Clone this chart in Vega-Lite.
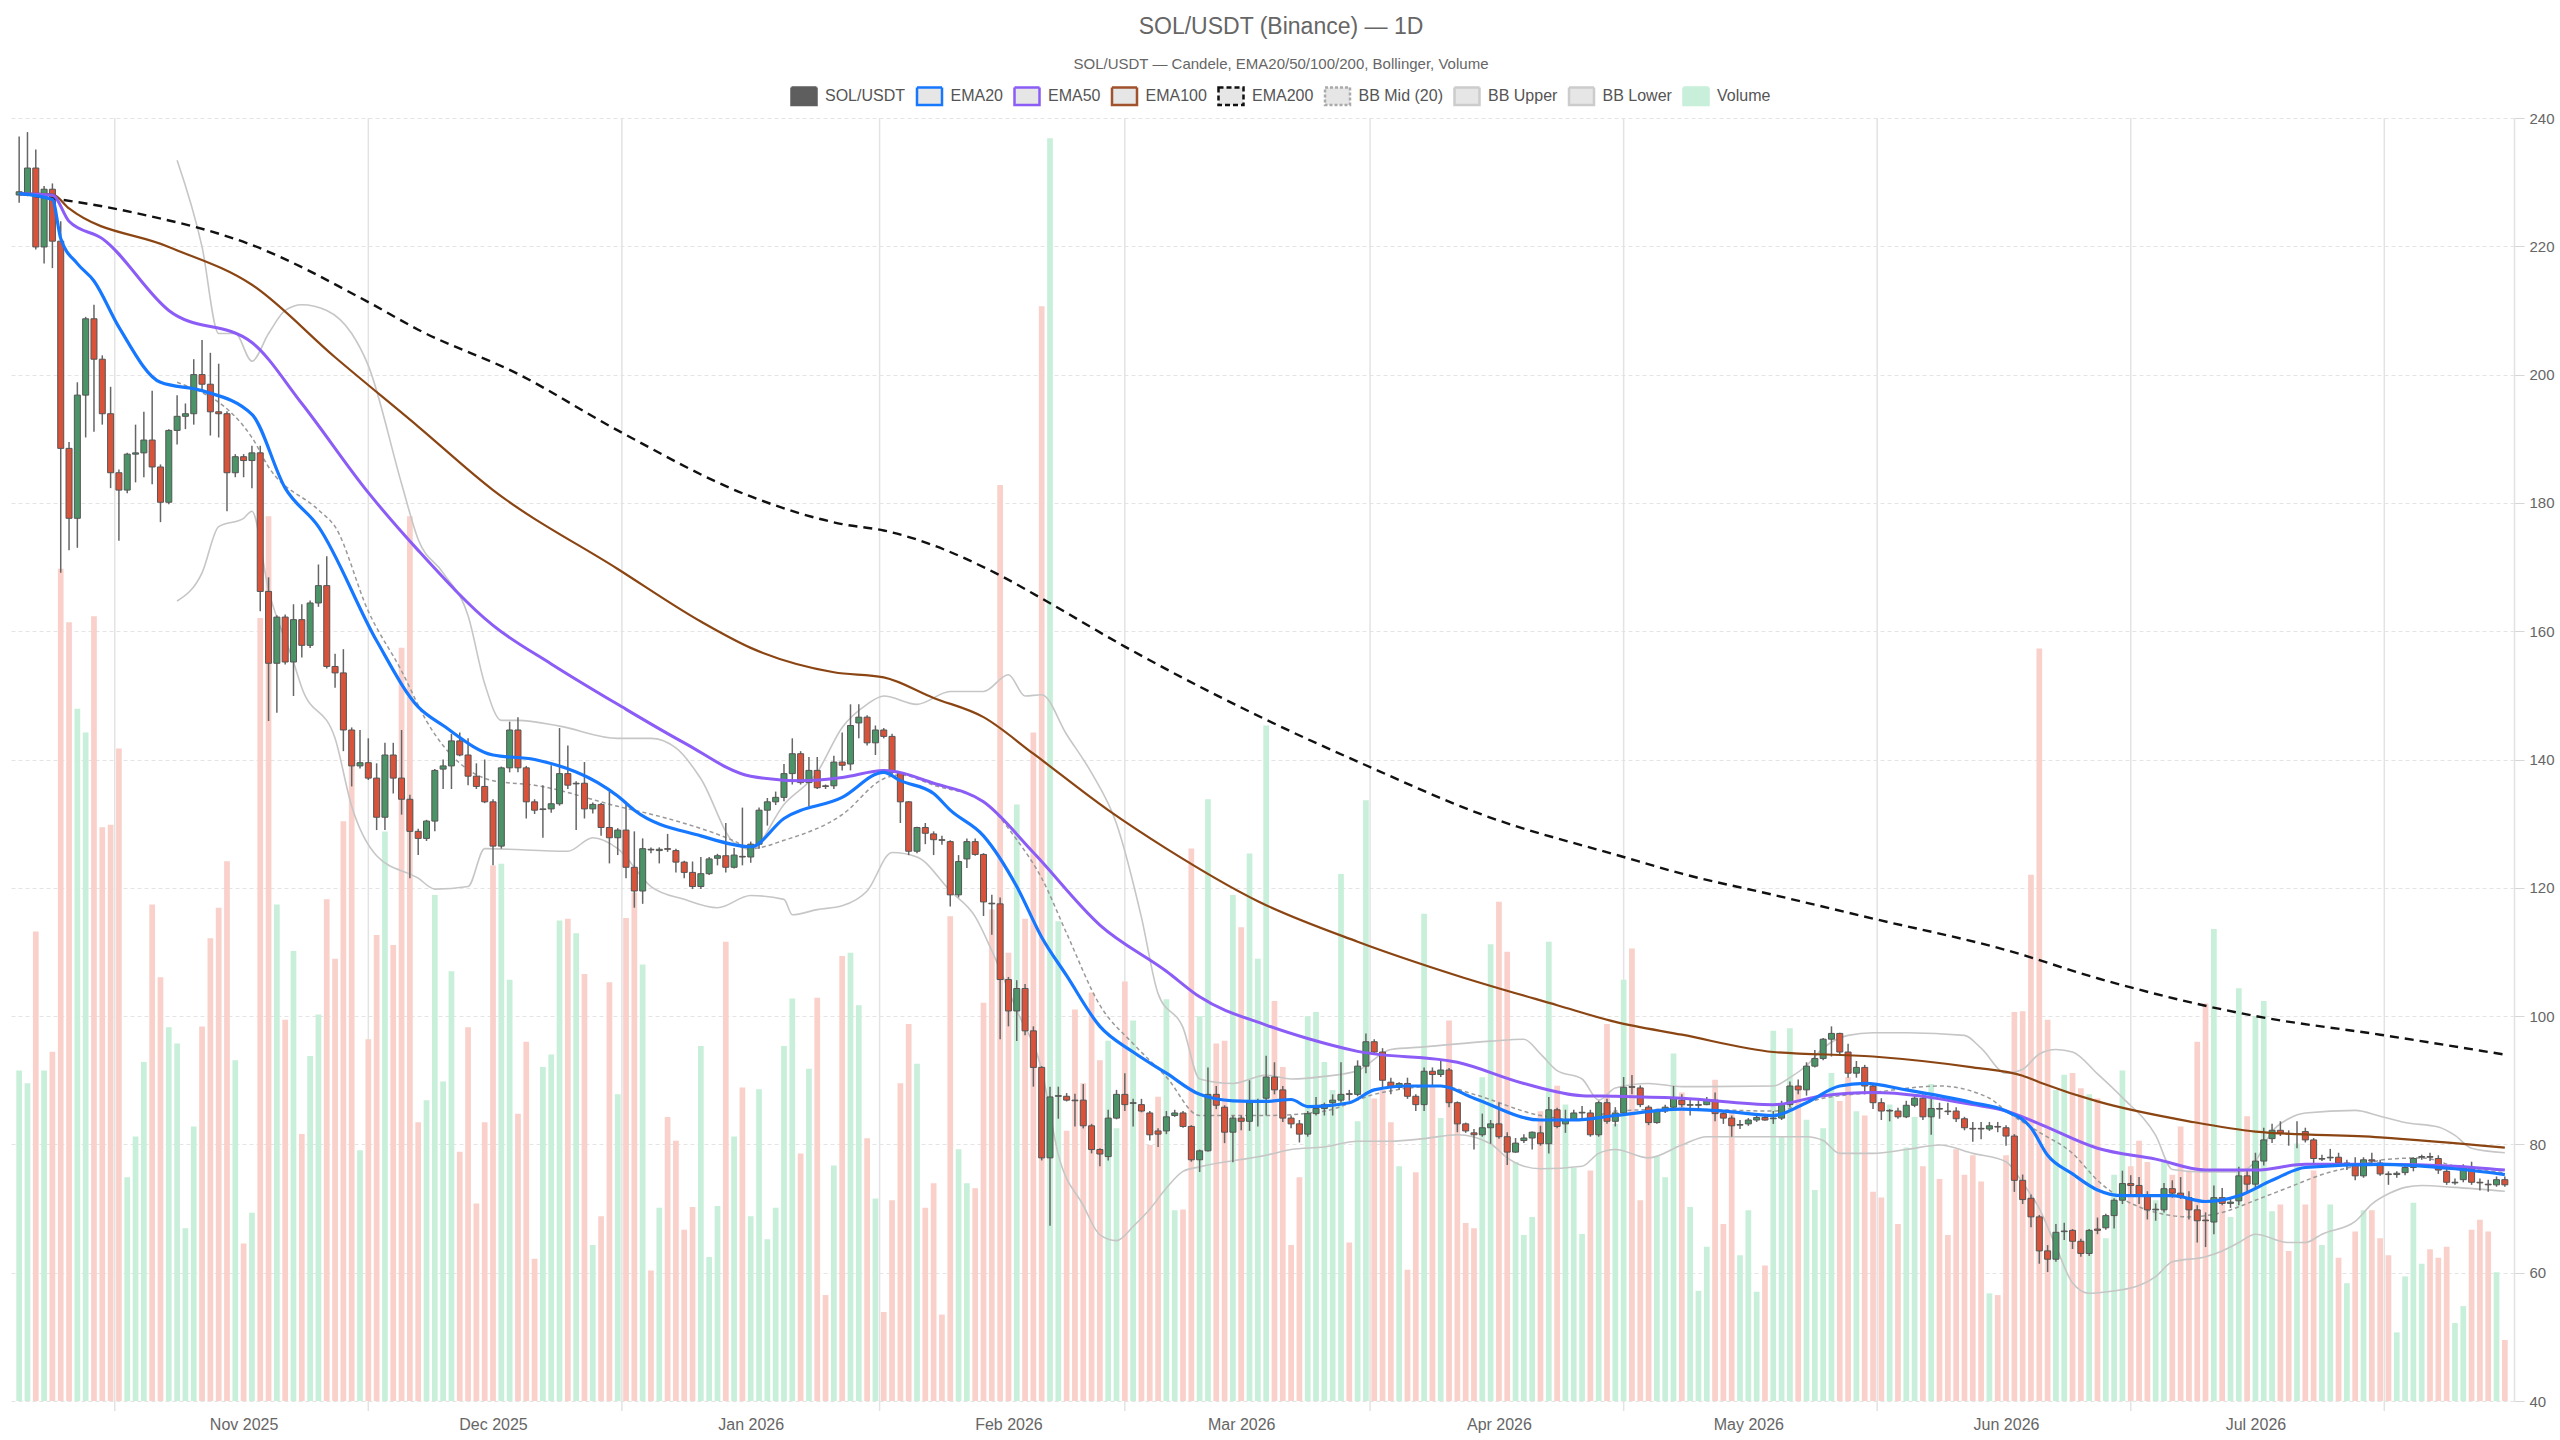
{
"$schema":"https://vega.github.io/schema/vega-lite/v6.json",
"width":2504,"height":1283,
"autosize":{"type":"none"},
"padding":{"left":10,"top":118,"right":46,"bottom":39},
"background":"#ffffff",
"title":{"text":"SOL/USDT (Binance) — 1D","subtitle":"SOL/USDT — Candele, EMA20/50/100/200, Bollinger, Volume","anchor":"middle","dx":19,"offset":10,"font":"Liberation Sans","fontSize":23,"fontWeight":"normal","color":"#666666","subtitleFont":"Liberation Sans","subtitleFontSize":15,"subtitleColor":"#666666","subtitlePadding":18},
"config":{"view":{"stroke":null},"font":"Liberation Sans"},
"datasets":{
"vgrid":[{"t":"2025-10-16T12:00:00Z"},{"t":"2025-11-16T00:00:00Z"},{"t":"2025-12-16T12:00:00Z"},{"t":"2026-01-16T12:00:00Z"},{"t":"2026-02-15T00:00:00Z"},{"t":"2026-03-16T12:00:00Z"},{"t":"2026-04-16T00:00:00Z"},{"t":"2026-05-16T12:00:00Z"},{"t":"2026-06-16T00:00:00Z"},{"t":"2026-07-16T12:00:00Z"}],
"candles":[
{"t":"2025-10-05","o":228.0,"h":237.1,"l":226.8,"c":228.5,"v":39.0},
{"t":"2025-10-06","o":228.2,"h":237.8,"l":227.8,"c":232.2,"v":37.5},
{"t":"2025-10-07","o":232.2,"h":235.1,"l":219.5,"c":219.9,"v":55.4},
{"t":"2025-10-08","o":219.9,"h":229.4,"l":217.3,"c":228.9,"v":39.0},
{"t":"2025-10-09","o":228.9,"h":229.8,"l":216.6,"c":220.8,"v":41.2},
{"t":"2025-10-10","o":220.8,"h":223.9,"l":169.1,"c":188.5,"v":98.2},
{"t":"2025-10-11","o":188.5,"h":189.5,"l":172.6,"c":177.6,"v":91.9},
{"t":"2025-10-12","o":177.6,"h":198.8,"l":173.0,"c":196.8,"v":81.7},
{"t":"2025-10-13","o":196.8,"h":209.0,"l":190.2,"c":208.7,"v":78.9},
{"t":"2025-10-14","o":208.7,"h":210.9,"l":191.1,"c":202.4,"v":92.6},
{"t":"2025-10-15","o":202.4,"h":203.0,"l":192.2,"c":193.9,"v":67.7},
{"t":"2025-10-16","o":193.9,"h":198.1,"l":182.3,"c":184.7,"v":68.0},
{"t":"2025-10-17","o":184.7,"h":185.2,"l":174.1,"c":182.0,"v":77.0},
{"t":"2025-10-18","o":182.0,"h":187.8,"l":181.5,"c":187.6,"v":26.4},
{"t":"2025-10-19","o":187.6,"h":192.2,"l":183.2,"c":187.8,"v":31.2},
{"t":"2025-10-20","o":187.8,"h":194.2,"l":184.0,"c":189.8,"v":40.0},
{"t":"2025-10-21","o":189.8,"h":197.5,"l":182.9,"c":185.6,"v":58.6},
{"t":"2025-10-22","o":185.6,"h":186.0,"l":177.0,"c":180.1,"v":50.0},
{"t":"2025-10-23","o":180.1,"h":191.5,"l":179.8,"c":191.3,"v":44.1},
{"t":"2025-10-24","o":191.3,"h":196.8,"l":189.1,"c":193.5,"v":42.2},
{"t":"2025-10-25","o":193.5,"h":195.5,"l":191.5,"c":193.9,"v":20.4},
{"t":"2025-10-26","o":193.9,"h":202.4,"l":192.2,"c":200.0,"v":32.4},
{"t":"2025-10-27","o":200.0,"h":205.4,"l":197.5,"c":198.5,"v":44.2},
{"t":"2025-10-28","o":198.5,"h":203.4,"l":190.5,"c":194.2,"v":54.6},
{"t":"2025-10-29","o":194.2,"h":201.7,"l":190.2,"c":193.9,"v":58.2},
{"t":"2025-10-30","o":193.9,"h":194.3,"l":178.7,"c":184.7,"v":63.7},
{"t":"2025-10-31","o":184.7,"h":187.6,"l":184.0,"c":187.2,"v":40.2},
{"t":"2025-11-01","o":187.2,"h":187.6,"l":184.0,"c":186.6,"v":18.6},
{"t":"2025-11-02","o":186.6,"h":188.9,"l":182.3,"c":187.8,"v":22.2},
{"t":"2025-11-03","o":187.8,"h":188.9,"l":163.1,"c":166.2,"v":92.4},
{"t":"2025-11-04","o":166.2,"h":168.4,"l":146.0,"c":155.0,"v":104.4},
{"t":"2025-11-05","o":155.0,"h":162.5,"l":147.3,"c":162.2,"v":58.6},
{"t":"2025-11-06","o":162.2,"h":162.6,"l":154.8,"c":155.2,"v":45.0},
{"t":"2025-11-07","o":155.2,"h":164.2,"l":149.9,"c":161.8,"v":53.1},
{"t":"2025-11-08","o":161.8,"h":164.2,"l":155.9,"c":157.8,"v":31.5},
{"t":"2025-11-09","o":157.8,"h":164.8,"l":157.4,"c":164.4,"v":40.7},
{"t":"2025-11-10","o":164.4,"h":170.4,"l":163.8,"c":167.1,"v":45.6},
{"t":"2025-11-11","o":167.1,"h":171.7,"l":154.2,"c":154.5,"v":59.2},
{"t":"2025-11-12","o":154.5,"h":156.5,"l":151.2,"c":153.5,"v":52.2},
{"t":"2025-11-13","o":153.5,"h":157.2,"l":141.3,"c":144.6,"v":68.4},
{"t":"2025-11-14","o":144.6,"h":145.0,"l":135.8,"c":139.0,"v":75.0},
{"t":"2025-11-15","o":139.0,"h":144.6,"l":138.6,"c":139.5,"v":29.6},
{"t":"2025-11-16","o":139.5,"h":143.3,"l":136.8,"c":137.1,"v":42.7},
{"t":"2025-11-17","o":137.1,"h":139.4,"l":129.0,"c":131.0,"v":55.0},
{"t":"2025-11-18","o":131.0,"h":142.6,"l":129.0,"c":140.7,"v":67.2},
{"t":"2025-11-19","o":140.7,"h":142.6,"l":134.7,"c":137.1,"v":53.8},
{"t":"2025-11-20","o":137.1,"h":144.6,"l":131.4,"c":133.8,"v":88.9},
{"t":"2025-11-21","o":133.8,"h":134.5,"l":121.5,"c":128.8,"v":104.4},
{"t":"2025-11-22","o":128.8,"h":129.2,"l":125.1,"c":127.7,"v":32.9},
{"t":"2025-11-23","o":127.7,"h":130.6,"l":127.3,"c":130.4,"v":35.5},
{"t":"2025-11-24","o":130.4,"h":138.5,"l":128.8,"c":138.3,"v":59.7},
{"t":"2025-11-25","o":138.5,"h":140.0,"l":135.4,"c":139.0,"v":37.7},
{"t":"2025-11-26","o":139.0,"h":144.0,"l":135.4,"c":142.9,"v":50.7},
{"t":"2025-11-27","o":142.9,"h":144.2,"l":140.5,"c":140.7,"v":29.4},
{"t":"2025-11-28","o":140.7,"h":143.3,"l":136.0,"c":137.4,"v":44.1},
{"t":"2025-11-29","o":137.4,"h":139.4,"l":135.4,"c":135.8,"v":23.3},
{"t":"2025-11-30","o":135.8,"h":140.0,"l":133.2,"c":133.4,"v":32.9},
{"t":"2025-12-01","o":133.4,"h":133.8,"l":123.5,"c":126.5,"v":63.2},
{"t":"2025-12-02","o":126.5,"h":138.9,"l":126.1,"c":138.7,"v":63.4},
{"t":"2025-12-03","o":138.7,"h":145.9,"l":138.0,"c":144.6,"v":49.7},
{"t":"2025-12-04","o":144.6,"h":146.6,"l":138.0,"c":138.7,"v":33.9},
{"t":"2025-12-05","o":138.7,"h":139.0,"l":130.8,"c":133.4,"v":42.4},
{"t":"2025-12-06","o":133.4,"h":133.8,"l":131.5,"c":132.1,"v":16.8},
{"t":"2025-12-07","o":132.2,"h":136.0,"l":127.8,"c":132.3,"v":39.4},
{"t":"2025-12-08","o":132.3,"h":139.1,"l":131.7,"c":133.1,"v":40.9},
{"t":"2025-12-09","o":133.1,"h":144.9,"l":132.8,"c":137.8,"v":56.7},
{"t":"2025-12-10","o":137.8,"h":142.2,"l":135.4,"c":136.0,"v":56.9},
{"t":"2025-12-11","o":136.2,"h":136.6,"l":129.0,"c":136.3,"v":55.2},
{"t":"2025-12-12","o":136.3,"h":139.6,"l":130.8,"c":132.3,"v":50.4},
{"t":"2025-12-13","o":132.3,"h":133.3,"l":131.6,"c":133.0,"v":18.4},
{"t":"2025-12-14","o":133.0,"h":133.2,"l":128.1,"c":129.4,"v":21.8},
{"t":"2025-12-15","o":129.4,"h":135.0,"l":123.8,"c":127.8,"v":49.4},
{"t":"2025-12-16","o":127.8,"h":129.3,"l":125.1,"c":129.0,"v":36.2},
{"t":"2025-12-17","o":129.0,"h":133.4,"l":121.5,"c":123.2,"v":57.0},
{"t":"2025-12-18","o":123.2,"h":128.8,"l":116.9,"c":119.5,"v":60.0},
{"t":"2025-12-19","o":119.5,"h":127.7,"l":117.5,"c":126.1,"v":51.5},
{"t":"2025-12-20","o":126.0,"h":126.3,"l":125.4,"c":125.9,"v":15.4},
{"t":"2025-12-21","o":125.8,"h":126.3,"l":123.8,"c":126.0,"v":22.8},
{"t":"2025-12-22","o":126.1,"h":128.4,"l":125.6,"c":126.0,"v":33.5},
{"t":"2025-12-23","o":125.8,"h":126.1,"l":122.4,"c":124.0,"v":30.7},
{"t":"2025-12-24","o":124.0,"h":124.2,"l":121.5,"c":122.4,"v":20.2},
{"t":"2025-12-25","o":122.4,"h":124.1,"l":119.8,"c":120.2,"v":22.9},
{"t":"2025-12-26","o":120.2,"h":124.8,"l":119.8,"c":122.2,"v":41.9},
{"t":"2025-12-27","o":122.2,"h":124.8,"l":122.0,"c":124.5,"v":17.0},
{"t":"2025-12-28","o":124.6,"h":125.3,"l":123.5,"c":125.0,"v":23.0},
{"t":"2025-12-29","o":125.0,"h":130.1,"l":122.4,"c":123.2,"v":54.2},
{"t":"2025-12-30","o":123.2,"h":126.2,"l":123.0,"c":125.1,"v":31.2},
{"t":"2025-12-31","o":124.9,"h":132.5,"l":123.5,"c":124.8,"v":37.0},
{"t":"2026-01-01","o":124.8,"h":127.2,"l":123.9,"c":126.8,"v":21.8},
{"t":"2026-01-02","o":126.8,"h":132.5,"l":126.1,"c":132.1,"v":36.8},
{"t":"2026-01-03","o":132.1,"h":134.0,"l":129.7,"c":133.4,"v":19.1},
{"t":"2026-01-04","o":133.4,"h":135.0,"l":132.9,"c":134.1,"v":22.8},
{"t":"2026-01-05","o":134.1,"h":139.3,"l":133.5,"c":137.8,"v":41.9},
{"t":"2026-01-06","o":137.8,"h":143.3,"l":136.1,"c":140.9,"v":47.5},
{"t":"2026-01-07","o":140.9,"h":141.3,"l":136.1,"c":136.4,"v":29.2},
{"t":"2026-01-08","o":136.4,"h":140.4,"l":132.7,"c":138.3,"v":39.2},
{"t":"2026-01-09","o":138.3,"h":140.4,"l":135.4,"c":135.6,"v":47.6},
{"t":"2026-01-10","o":135.9,"h":136.1,"l":135.4,"c":135.8,"v":12.5},
{"t":"2026-01-11","o":135.9,"h":140.6,"l":135.4,"c":139.6,"v":27.8},
{"t":"2026-01-12","o":139.6,"h":144.2,"l":138.3,"c":139.1,"v":52.5},
{"t":"2026-01-13","o":139.3,"h":148.6,"l":138.3,"c":145.3,"v":52.9},
{"t":"2026-01-14","o":145.7,"h":148.6,"l":143.3,"c":146.6,"v":46.7},
{"t":"2026-01-15","o":146.6,"h":146.9,"l":142.2,"c":142.6,"v":31.0},
{"t":"2026-01-16","o":142.6,"h":145.3,"l":140.7,"c":144.6,"v":23.9},
{"t":"2026-01-17","o":144.6,"h":144.9,"l":143.3,"c":143.6,"v":10.5},
{"t":"2026-01-18","o":143.6,"h":144.0,"l":137.7,"c":138.0,"v":23.7},
{"t":"2026-01-19","o":137.9,"h":138.0,"l":130.1,"c":133.4,"v":37.5},
{"t":"2026-01-20","o":133.4,"h":133.5,"l":125.1,"c":125.7,"v":44.5},
{"t":"2026-01-21","o":125.7,"h":129.5,"l":125.4,"c":129.4,"v":39.8},
{"t":"2026-01-22","o":129.4,"h":130.1,"l":126.8,"c":128.5,"v":22.8},
{"t":"2026-01-23","o":128.4,"h":128.8,"l":125.1,"c":127.5,"v":25.7},
{"t":"2026-01-24","o":127.5,"h":128.1,"l":126.7,"c":127.4,"v":10.2},
{"t":"2026-01-25","o":127.2,"h":127.4,"l":117.1,"c":118.9,"v":57.2},
{"t":"2026-01-26","o":118.9,"h":125.1,"l":118.5,"c":124.1,"v":29.7},
{"t":"2026-01-27","o":124.5,"h":127.7,"l":123.1,"c":127.2,"v":25.7},
{"t":"2026-01-28","o":127.2,"h":127.7,"l":125.0,"c":125.2,"v":25.1},
{"t":"2026-01-29","o":125.2,"h":125.4,"l":115.6,"c":117.8,"v":47.0},
{"t":"2026-01-30","o":117.6,"h":118.9,"l":112.7,"c":117.5,"v":58.0},
{"t":"2026-01-31","o":117.5,"h":118.5,"l":96.4,"c":105.7,"v":108.1},
{"t":"2026-02-01","o":105.7,"h":106.1,"l":98.4,"c":100.8,"v":52.9},
{"t":"2026-02-02","o":100.8,"h":105.6,"l":96.1,"c":104.3,"v":70.4},
{"t":"2026-02-03","o":104.3,"h":105.0,"l":97.0,"c":97.7,"v":56.9},
{"t":"2026-02-04","o":97.7,"h":98.4,"l":89.0,"c":92.0,"v":78.9},
{"t":"2026-02-05","o":92.0,"h":92.2,"l":77.5,"c":77.9,"v":129.2},
{"t":"2026-02-06","o":77.9,"h":89.0,"l":67.3,"c":87.4,"v":149.0},
{"t":"2026-02-07","o":87.5,"h":89.0,"l":84.0,"c":87.6,"v":56.6},
{"t":"2026-02-08","o":87.5,"h":88.0,"l":86.7,"c":86.9,"v":31.9},
{"t":"2026-02-09","o":86.9,"h":87.9,"l":82.8,"c":86.8,"v":46.2},
{"t":"2026-02-10","o":86.9,"h":89.4,"l":82.5,"c":82.9,"v":37.5},
{"t":"2026-02-11","o":82.9,"h":83.2,"l":78.6,"c":79.2,"v":48.2},
{"t":"2026-02-12","o":79.2,"h":79.4,"l":76.6,"c":78.5,"v":40.2},
{"t":"2026-02-13","o":78.1,"h":85.4,"l":77.5,"c":84.1,"v":42.5},
{"t":"2026-02-14","o":84.1,"h":88.5,"l":83.9,"c":87.8,"v":32.2},
{"t":"2026-02-15","o":87.8,"h":91.1,"l":85.2,"c":86.2,"v":49.5},
{"t":"2026-02-16","o":86.4,"h":87.1,"l":82.8,"c":86.5,"v":44.9},
{"t":"2026-02-17","o":86.2,"h":87.1,"l":85.0,"c":85.2,"v":34.2},
{"t":"2026-02-18","o":84.9,"h":85.2,"l":80.6,"c":81.5,"v":30.2},
{"t":"2026-02-19","o":82.1,"h":82.5,"l":79.6,"c":81.6,"v":35.9},
{"t":"2026-02-20","o":82.1,"h":85.2,"l":81.6,"c":84.3,"v":47.4},
{"t":"2026-02-21","o":84.5,"h":85.4,"l":84.3,"c":84.9,"v":22.5},
{"t":"2026-02-22","o":84.9,"h":85.2,"l":82.6,"c":82.8,"v":22.6},
{"t":"2026-02-23","o":82.8,"h":83.0,"l":77.3,"c":77.6,"v":65.2},
{"t":"2026-02-24","o":77.6,"h":79.2,"l":75.7,"c":79.0,"v":45.4},
{"t":"2026-02-25","o":79.0,"h":92.0,"l":78.9,"c":87.8,"v":71.0},
{"t":"2026-02-26","o":87.8,"h":89.1,"l":85.5,"c":86.1,"v":42.2},
{"t":"2026-02-27","o":85.8,"h":86.1,"l":80.2,"c":81.9,"v":42.5},
{"t":"2026-02-28","o":81.9,"h":84.5,"l":77.2,"c":84.1,"v":59.7},
{"t":"2026-03-01","o":84.1,"h":84.5,"l":82.2,"c":83.6,"v":55.9},
{"t":"2026-03-02","o":83.6,"h":90.0,"l":82.1,"c":86.5,"v":64.6},
{"t":"2026-03-03","o":86.6,"h":87.1,"l":82.8,"c":86.8,"v":52.2},
{"t":"2026-03-04","o":87.2,"h":93.8,"l":84.5,"c":90.5,"v":79.7},
{"t":"2026-03-05","o":90.5,"h":92.8,"l":87.8,"c":88.5,"v":47.2},
{"t":"2026-03-06","o":88.5,"h":89.1,"l":83.5,"c":84.1,"v":39.4},
{"t":"2026-03-07","o":84.1,"h":84.5,"l":82.5,"c":83.2,"v":18.4},
{"t":"2026-03-08","o":83.2,"h":83.8,"l":80.3,"c":81.6,"v":26.4},
{"t":"2026-03-09","o":81.6,"h":85.2,"l":81.2,"c":84.8,"v":45.4},
{"t":"2026-03-10","o":84.8,"h":87.4,"l":84.5,"c":85.6,"v":45.9},
{"t":"2026-03-11","o":85.6,"h":86.5,"l":84.5,"c":86.2,"v":40.0},
{"t":"2026-03-12","o":86.5,"h":87.8,"l":84.5,"c":86.9,"v":36.7},
{"t":"2026-03-13","o":86.9,"h":92.8,"l":86.5,"c":87.8,"v":62.2},
{"t":"2026-03-14","o":87.9,"h":88.5,"l":86.8,"c":87.8,"v":18.7},
{"t":"2026-03-15","o":87.8,"h":93.1,"l":87.5,"c":92.2,"v":33.0},
{"t":"2026-03-16","o":92.2,"h":97.3,"l":91.1,"c":96.0,"v":70.9},
{"t":"2026-03-17","o":96.0,"h":96.4,"l":94.1,"c":94.4,"v":35.7},
{"t":"2026-03-18","o":94.4,"h":95.0,"l":88.9,"c":90.0,"v":36.7},
{"t":"2026-03-19","o":89.7,"h":90.4,"l":87.8,"c":88.9,"v":32.9},
{"t":"2026-03-20","o":88.9,"h":89.7,"l":88.5,"c":89.5,"v":27.7},
{"t":"2026-03-21","o":89.5,"h":90.4,"l":87.1,"c":87.5,"v":15.5},
{"t":"2026-03-22","o":87.5,"h":87.8,"l":85.2,"c":86.2,"v":27.0},
{"t":"2026-03-23","o":86.2,"h":92.0,"l":85.2,"c":91.4,"v":57.5},
{"t":"2026-03-24","o":91.4,"h":92.0,"l":89.0,"c":90.9,"v":37.2},
{"t":"2026-03-25","o":90.9,"h":93.1,"l":90.5,"c":91.6,"v":33.4},
{"t":"2026-03-26","o":91.6,"h":91.9,"l":85.8,"c":86.5,"v":44.9},
{"t":"2026-03-27","o":86.5,"h":86.7,"l":81.9,"c":83.2,"v":32.7},
{"t":"2026-03-28","o":83.2,"h":83.4,"l":81.8,"c":82.1,"v":21.0},
{"t":"2026-03-29","o":81.8,"h":82.4,"l":79.2,"c":81.5,"v":20.4},
{"t":"2026-03-30","o":81.5,"h":84.8,"l":81.2,"c":82.6,"v":38.2},
{"t":"2026-03-31","o":82.6,"h":83.8,"l":80.1,"c":83.2,"v":53.9},
{"t":"2026-04-01","o":83.2,"h":86.5,"l":80.9,"c":81.2,"v":58.9},
{"t":"2026-04-02","o":81.2,"h":81.9,"l":76.8,"c":78.8,"v":53.0},
{"t":"2026-04-03","o":78.8,"h":81.0,"l":78.7,"c":80.2,"v":28.2},
{"t":"2026-04-04","o":80.6,"h":81.6,"l":80.2,"c":81.0,"v":19.6},
{"t":"2026-04-05","o":81.0,"h":82.0,"l":79.2,"c":81.9,"v":21.7},
{"t":"2026-04-06","o":81.8,"h":82.9,"l":79.8,"c":80.1,"v":34.2},
{"t":"2026-04-07","o":80.1,"h":87.4,"l":78.6,"c":85.4,"v":54.2},
{"t":"2026-04-08","o":85.4,"h":85.7,"l":82.5,"c":82.8,"v":37.2},
{"t":"2026-04-09","o":83.2,"h":85.4,"l":81.8,"c":83.8,"v":35.0},
{"t":"2026-04-10","o":83.8,"h":85.4,"l":83.7,"c":84.9,"v":27.5},
{"t":"2026-04-11","o":84.9,"h":86.0,"l":84.1,"c":85.0,"v":19.7},
{"t":"2026-04-12","o":84.9,"h":85.4,"l":81.2,"c":81.5,"v":27.2},
{"t":"2026-04-13","o":81.5,"h":86.8,"l":81.2,"c":86.5,"v":35.2},
{"t":"2026-04-14","o":86.5,"h":87.1,"l":83.2,"c":83.6,"v":44.5},
{"t":"2026-04-15","o":83.6,"h":85.8,"l":82.8,"c":84.9,"v":32.7},
{"t":"2026-04-16","o":84.9,"h":90.5,"l":84.5,"c":88.9,"v":49.7},
{"t":"2026-04-17","o":89.0,"h":90.8,"l":87.8,"c":88.9,"v":53.4},
{"t":"2026-04-18","o":88.8,"h":89.2,"l":85.8,"c":86.2,"v":23.7},
{"t":"2026-04-19","o":85.8,"h":86.1,"l":83.0,"c":83.4,"v":33.0},
{"t":"2026-04-20","o":83.4,"h":85.4,"l":83.2,"c":85.2,"v":28.9},
{"t":"2026-04-21","o":85.2,"h":86.2,"l":84.9,"c":85.8,"v":26.4},
{"t":"2026-04-22","o":85.8,"h":89.1,"l":85.4,"c":87.2,"v":41.0},
{"t":"2026-04-23","o":86.9,"h":87.8,"l":85.8,"c":86.2,"v":36.4},
{"t":"2026-04-24","o":86.1,"h":87.1,"l":84.5,"c":86.2,"v":22.9},
{"t":"2026-04-25","o":86.1,"h":87.1,"l":85.2,"c":86.2,"v":13.0},
{"t":"2026-04-26","o":86.2,"h":87.4,"l":86.1,"c":86.9,"v":18.2},
{"t":"2026-04-27","o":86.9,"h":88.1,"l":83.6,"c":84.8,"v":37.9},
{"t":"2026-04-28","o":84.8,"h":85.2,"l":83.2,"c":84.1,"v":20.9},
{"t":"2026-04-29","o":84.1,"h":84.5,"l":81.2,"c":82.9,"v":34.2},
{"t":"2026-04-30","o":83.0,"h":83.8,"l":82.4,"c":83.1,"v":17.2},
{"t":"2026-05-01","o":83.2,"h":84.1,"l":82.9,"c":83.8,"v":22.5},
{"t":"2026-05-02","o":83.8,"h":84.6,"l":83.5,"c":84.2,"v":12.9},
{"t":"2026-05-03","o":84.2,"h":84.5,"l":83.7,"c":83.8,"v":16.0},
{"t":"2026-05-04","o":84.0,"h":85.2,"l":83.2,"c":84.1,"v":43.7},
{"t":"2026-05-05","o":84.1,"h":86.8,"l":83.8,"c":86.2,"v":31.2},
{"t":"2026-05-06","o":86.2,"h":89.8,"l":85.8,"c":89.1,"v":44.0},
{"t":"2026-05-07","o":89.1,"h":90.1,"l":87.8,"c":88.5,"v":36.9},
{"t":"2026-05-08","o":88.5,"h":92.8,"l":87.6,"c":92.2,"v":33.2},
{"t":"2026-05-09","o":92.2,"h":94.7,"l":92.0,"c":93.4,"v":24.9},
{"t":"2026-05-10","o":93.4,"h":96.6,"l":93.1,"c":96.4,"v":32.2},
{"t":"2026-05-11","o":96.4,"h":98.4,"l":93.7,"c":97.3,"v":38.7},
{"t":"2026-05-12","o":97.3,"h":97.4,"l":94.1,"c":94.4,"v":35.4},
{"t":"2026-05-13","o":94.4,"h":95.7,"l":90.4,"c":91.1,"v":38.2},
{"t":"2026-05-14","o":91.1,"h":93.0,"l":90.4,"c":92.0,"v":34.2},
{"t":"2026-05-15","o":92.0,"h":92.4,"l":87.8,"c":89.1,"v":33.7},
{"t":"2026-05-16","o":89.1,"h":89.4,"l":85.5,"c":86.5,"v":24.7},
{"t":"2026-05-17","o":86.5,"h":87.2,"l":83.8,"c":85.2,"v":24.0},
{"t":"2026-05-18","o":85.2,"h":85.5,"l":83.6,"c":85.3,"v":35.0},
{"t":"2026-05-19","o":85.2,"h":85.7,"l":84.0,"c":84.3,"v":20.9},
{"t":"2026-05-20","o":84.3,"h":86.8,"l":84.1,"c":86.1,"v":29.9},
{"t":"2026-05-21","o":86.1,"h":87.8,"l":85.8,"c":87.2,"v":33.5},
{"t":"2026-05-22","o":87.2,"h":87.8,"l":83.8,"c":84.3,"v":27.7},
{"t":"2026-05-23","o":84.3,"h":87.4,"l":81.5,"c":85.6,"v":37.4},
{"t":"2026-05-24","o":85.6,"h":86.5,"l":84.0,"c":85.5,"v":26.2},
{"t":"2026-05-25","o":85.2,"h":86.5,"l":84.6,"c":85.1,"v":19.6},
{"t":"2026-05-26","o":85.2,"h":85.8,"l":83.5,"c":84.0,"v":29.7},
{"t":"2026-05-27","o":84.0,"h":84.3,"l":82.2,"c":82.6,"v":26.7},
{"t":"2026-05-28","o":82.5,"h":83.5,"l":80.4,"c":82.4,"v":29.0},
{"t":"2026-05-29","o":82.5,"h":83.5,"l":80.8,"c":82.4,"v":25.9},
{"t":"2026-05-30","o":82.4,"h":83.5,"l":82.1,"c":82.9,"v":12.7},
{"t":"2026-05-31","o":82.8,"h":83.5,"l":81.9,"c":82.7,"v":12.5},
{"t":"2026-06-01","o":82.6,"h":83.0,"l":79.8,"c":81.3,"v":29.0},
{"t":"2026-06-02","o":81.3,"h":81.6,"l":72.6,"c":74.4,"v":45.9},
{"t":"2026-06-03","o":74.4,"h":75.3,"l":70.7,"c":71.4,"v":46.0},
{"t":"2026-06-04","o":71.6,"h":72.2,"l":67.1,"c":68.7,"v":62.1},
{"t":"2026-06-05","o":68.7,"h":69.0,"l":61.4,"c":63.4,"v":88.8},
{"t":"2026-06-06","o":63.4,"h":64.3,"l":60.1,"c":62.1,"v":45.0},
{"t":"2026-06-07","o":62.1,"h":67.6,"l":61.7,"c":66.3,"v":36.7},
{"t":"2026-06-08","o":66.4,"h":67.8,"l":65.1,"c":66.5,"v":38.5},
{"t":"2026-06-09","o":66.6,"h":66.8,"l":63.7,"c":64.9,"v":38.7},
{"t":"2026-06-10","o":64.9,"h":65.3,"l":62.5,"c":63.0,"v":36.9},
{"t":"2026-06-11","o":63.0,"h":66.8,"l":62.6,"c":66.6,"v":36.2},
{"t":"2026-06-12","o":66.8,"h":68.6,"l":66.0,"c":66.6,"v":35.7},
{"t":"2026-06-13","o":67.0,"h":69.2,"l":66.7,"c":68.9,"v":19.2},
{"t":"2026-06-14","o":68.9,"h":71.6,"l":66.9,"c":71.3,"v":26.7},
{"t":"2026-06-15","o":71.3,"h":75.9,"l":70.7,"c":73.9,"v":39.0},
{"t":"2026-06-16","o":73.9,"h":75.2,"l":71.9,"c":73.6,"v":27.7},
{"t":"2026-06-17","o":73.6,"h":74.9,"l":70.7,"c":72.0,"v":30.7},
{"t":"2026-06-18","o":72.0,"h":72.7,"l":68.3,"c":69.8,"v":28.2},
{"t":"2026-06-19","o":69.8,"h":70.8,"l":68.1,"c":69.9,"v":23.7},
{"t":"2026-06-20","o":69.8,"h":74.0,"l":69.4,"c":73.1,"v":28.2},
{"t":"2026-06-21","o":73.1,"h":74.4,"l":71.7,"c":72.4,"v":26.7},
{"t":"2026-06-22","o":72.4,"h":74.9,"l":71.5,"c":72.0,"v":32.4},
{"t":"2026-06-23","o":71.7,"h":72.7,"l":68.3,"c":69.8,"v":27.2},
{"t":"2026-06-24","o":69.8,"h":70.5,"l":64.7,"c":68.1,"v":42.4},
{"t":"2026-06-25","o":68.2,"h":69.4,"l":64.0,"c":68.1,"v":46.9},
{"t":"2026-06-26","o":67.9,"h":73.6,"l":66.0,"c":71.7,"v":55.7},
{"t":"2026-06-27","o":71.7,"h":73.2,"l":70.5,"c":70.8,"v":23.2},
{"t":"2026-06-28","o":70.8,"h":71.7,"l":70.1,"c":71.0,"v":21.7},
{"t":"2026-06-29","o":71.2,"h":76.5,"l":70.5,"c":75.1,"v":48.7},
{"t":"2026-06-30","o":75.1,"h":76.1,"l":72.4,"c":73.8,"v":33.6},
{"t":"2026-07-01","o":73.8,"h":78.7,"l":73.1,"c":77.4,"v":45.4},
{"t":"2026-07-02","o":77.4,"h":82.6,"l":76.7,"c":80.7,"v":47.2},
{"t":"2026-07-03","o":80.9,"h":83.2,"l":80.2,"c":82.2,"v":22.4},
{"t":"2026-07-04","o":82.2,"h":83.6,"l":81.3,"c":81.7,"v":23.2},
{"t":"2026-07-05","o":81.7,"h":82.2,"l":79.8,"c":81.6,"v":17.7},
{"t":"2026-07-06","o":81.6,"h":83.6,"l":79.4,"c":81.7,"v":30.4},
{"t":"2026-07-07","o":82.0,"h":82.6,"l":80.3,"c":80.7,"v":23.2},
{"t":"2026-07-08","o":80.7,"h":81.0,"l":76.8,"c":77.8,"v":27.2},
{"t":"2026-07-09","o":77.7,"h":78.4,"l":77.4,"c":77.8,"v":18.4},
{"t":"2026-07-10","o":77.9,"h":79.3,"l":77.4,"c":78.0,"v":23.2},
{"t":"2026-07-11","o":78.0,"h":78.7,"l":76.8,"c":77.1,"v":16.9},
{"t":"2026-07-12","o":77.0,"h":77.6,"l":76.0,"c":77.1,"v":13.9},
{"t":"2026-07-13","o":76.7,"h":78.0,"l":74.4,"c":75.1,"v":20.0},
{"t":"2026-07-14","o":75.1,"h":78.0,"l":74.8,"c":77.6,"v":22.5},
{"t":"2026-07-15","o":77.6,"h":78.7,"l":77.1,"c":77.4,"v":22.5},
{"t":"2026-07-16","o":77.1,"h":77.6,"l":75.1,"c":75.4,"v":19.2},
{"t":"2026-07-17","o":75.4,"h":75.8,"l":73.7,"c":75.3,"v":17.2},
{"t":"2026-07-18","o":75.3,"h":75.8,"l":74.8,"c":75.5,"v":8.1},
{"t":"2026-07-19","o":75.6,"h":76.6,"l":75.2,"c":76.4,"v":14.7},
{"t":"2026-07-20","o":76.4,"h":78.0,"l":75.8,"c":77.8,"v":23.4},
{"t":"2026-07-21","o":78.0,"h":78.4,"l":77.6,"c":78.1,"v":16.2},
{"t":"2026-07-22","o":78.1,"h":78.7,"l":77.4,"c":78.0,"v":17.9},
{"t":"2026-07-23","o":77.8,"h":78.3,"l":75.4,"c":76.0,"v":16.9},
{"t":"2026-07-24","o":75.8,"h":76.6,"l":73.7,"c":74.1,"v":18.2},
{"t":"2026-07-25","o":74.0,"h":74.7,"l":73.7,"c":74.1,"v":9.2},
{"t":"2026-07-26","o":74.5,"h":76.9,"l":74.1,"c":76.4,"v":11.2},
{"t":"2026-07-27","o":76.4,"h":77.3,"l":73.7,"c":74.1,"v":20.2},
{"t":"2026-07-28","o":74.1,"h":74.7,"l":72.8,"c":74.0,"v":21.4},
{"t":"2026-07-29","o":73.8,"h":74.5,"l":72.6,"c":73.7,"v":20.0},
{"t":"2026-07-30","o":73.7,"h":75.0,"l":73.4,"c":74.5,"v":15.2},
{"t":"2026-07-31","o":74.5,"h":75.0,"l":73.4,"c":73.7,"v":7.2}
],
"lines":[
{"t":"2025-10-05","s":"e200","v":228.2},{"t":"2025-10-19","s":"e200","v":225.2},{"t":"2025-11-02","s":"e200","v":220.2},{"t":"2025-11-16","s":"e200","v":211.3},{"t":"2025-11-22","s":"e200","v":207.0},{"t":"2025-12-04","s":"e200","v":200.1},{"t":"2025-12-16","s":"e200","v":191.3},{"t":"2026-01-01","s":"e200","v":181.0},{"t":"2026-01-12","s":"e200","v":176.7},{"t":"2026-01-17","s":"e200","v":175.7},{"t":"2026-01-31","s":"e200","v":168.7},{"t":"2026-02-05","s":"e200","v":165.1},{"t":"2026-02-15","s":"e200","v":157.6},{"t":"2026-03-04","s":"e200","v":146.2},{"t":"2026-03-16","s":"e200","v":139.1},{"t":"2026-03-30","s":"e200","v":131.4},{"t":"2026-04-16","s":"e200","v":124.8},{"t":"2026-04-23","s":"e200","v":122.2},{"t":"2026-05-04","s":"e200","v":118.9},{"t":"2026-05-16","s":"e200","v":115.2},{"t":"2026-06-01","s":"e200","v":110.3},{"t":"2026-06-12","s":"e200","v":105.9},{"t":"2026-07-01","s":"e200","v":100.0},{"t":"2026-07-16","s":"e200","v":97.1},{"t":"2026-07-31","s":"e200","v":94.0},
{"t":"2025-10-05","s":"e100","v":228.2},{"t":"2025-10-09","s":"e100","v":228.1},{"t":"2025-10-11","s":"e100","v":225.9},{"t":"2025-10-23","s":"e100","v":219.9},{"t":"2025-11-02","s":"e100","v":214.0},{"t":"2025-11-12","s":"e100","v":202.7},{"t":"2025-11-22","s":"e100","v":191.9},{"t":"2025-12-01","s":"e100","v":182.0},{"t":"2025-12-16","s":"e100","v":169.7},{"t":"2025-12-26","s":"e100","v":161.5},{"t":"2026-01-01","s":"e100","v":157.4},{"t":"2026-01-11","s":"e100","v":153.6},{"t":"2026-01-17","s":"e100","v":152.8},{"t":"2026-01-23","s":"e100","v":149.6},{"t":"2026-01-29","s":"e100","v":146.6},{"t":"2026-02-04","s":"e100","v":140.9},{"t":"2026-02-13","s":"e100","v":132.1},{"t":"2026-02-20","s":"e100","v":126.1},{"t":"2026-03-03","s":"e100","v":117.9},{"t":"2026-03-15","s":"e100","v":111.6},{"t":"2026-03-27","s":"e100","v":106.3},{"t":"2026-04-08","s":"e100","v":101.7},{"t":"2026-04-15","s":"e100","v":99.1},{"t":"2026-04-23","s":"e100","v":97.1},{"t":"2026-05-04","s":"e100","v":94.4},{"t":"2026-05-16","s":"e100","v":93.7},{"t":"2026-05-28","s":"e100","v":92.0},{"t":"2026-06-03","s":"e100","v":90.7},{"t":"2026-06-05","s":"e100","v":89.7},{"t":"2026-06-12","s":"e100","v":86.7},{"t":"2026-06-23","s":"e100","v":83.6},{"t":"2026-07-01","s":"e100","v":82.0},{"t":"2026-07-16","s":"e100","v":81.1},{"t":"2026-07-31","s":"e100","v":79.5},
{"t":"2025-10-05","s":"e50","v":228.2},{"t":"2025-10-09","s":"e50","v":228.0},{"t":"2025-10-11","s":"e50","v":223.9},{"t":"2025-10-15","s":"e50","v":221.2},{"t":"2025-10-23","s":"e50","v":210.0},{"t":"2025-11-02","s":"e50","v":205.0},{"t":"2025-11-08","s":"e50","v":195.5},{"t":"2025-11-16","s":"e50","v":181.6},{"t":"2025-11-22","s":"e50","v":172.6},{"t":"2025-12-01","s":"e50","v":160.9},{"t":"2025-12-08","s":"e50","v":154.9},{"t":"2025-12-16","s":"e50","v":148.6},{"t":"2025-12-24","s":"e50","v":142.6},{"t":"2026-01-01","s":"e50","v":137.4},{"t":"2026-01-07","s":"e50","v":136.7},{"t":"2026-01-12","s":"e50","v":137.2},{"t":"2026-01-17","s":"e50","v":138.3},{"t":"2026-01-23","s":"e50","v":136.3},{"t":"2026-01-29","s":"e50","v":133.4},{"t":"2026-02-04","s":"e50","v":125.5},{"t":"2026-02-12","s":"e50","v":114.2},{"t":"2026-02-20","s":"e50","v":107.0},{"t":"2026-02-24","s":"e50","v":103.0},{"t":"2026-03-04","s":"e50","v":98.6},{"t":"2026-03-09","s":"e50","v":96.5},{"t":"2026-03-15","s":"e50","v":94.5},{"t":"2026-03-27","s":"e50","v":92.8},{"t":"2026-04-04","s":"e50","v":89.5},{"t":"2026-04-11","s":"e50","v":87.6},{"t":"2026-04-15","s":"e50","v":87.5},{"t":"2026-04-23","s":"e50","v":87.2},{"t":"2026-05-04","s":"e50","v":86.2},{"t":"2026-05-10","s":"e50","v":87.6},{"t":"2026-05-16","s":"e50","v":88.1},{"t":"2026-05-28","s":"e50","v":86.2},{"t":"2026-06-01","s":"e50","v":85.2},{"t":"2026-06-05","s":"e50","v":83.2},{"t":"2026-06-12","s":"e50","v":79.4},{"t":"2026-06-19","s":"e50","v":77.7},{"t":"2026-06-25","s":"e50","v":76.0},{"t":"2026-07-01","s":"e50","v":76.0},{"t":"2026-07-07","s":"e50","v":76.9},{"t":"2026-07-16","s":"e50","v":76.9},{"t":"2026-07-25","s":"e50","v":76.6},{"t":"2026-07-31","s":"e50","v":76.0},
{"t":"2025-10-05","s":"e20","v":228.2},{"t":"2025-10-09","s":"e20","v":227.3},{"t":"2025-10-10","s":"e20","v":221.2},{"t":"2025-10-12","s":"e20","v":217.3},{"t":"2025-10-14","s":"e20","v":214.6},{"t":"2025-10-17","s":"e20","v":207.4},{"t":"2025-10-22","s":"e20","v":198.8},{"t":"2025-10-27","s":"e20","v":197.5},{"t":"2025-11-02","s":"e20","v":193.8},{"t":"2025-11-06","s":"e20","v":182.3},{"t":"2025-11-10","s":"e20","v":176.3},{"t":"2025-11-17","s":"e20","v":158.5},{"t":"2025-11-22","s":"e20","v":148.2},{"t":"2025-11-25","s":"e20","v":145.3},{"t":"2025-12-01","s":"e20","v":140.7},{"t":"2025-12-06","s":"e20","v":140.0},{"t":"2025-12-16","s":"e20","v":134.3},{"t":"2025-12-18","s":"e20","v":132.1},{"t":"2025-12-26","s":"e20","v":128.1},{"t":"2026-01-01","s":"e20","v":126.4},{"t":"2026-01-05","s":"e20","v":130.8},{"t":"2026-01-12","s":"e20","v":134.1},{"t":"2026-01-17","s":"e20","v":138.0},{"t":"2026-01-19","s":"e20","v":136.7},{"t":"2026-01-23","s":"e20","v":134.7},{"t":"2026-01-25","s":"e20","v":132.1},{"t":"2026-01-29","s":"e20","v":128.1},{"t":"2026-02-02","s":"e20","v":120.2},{"t":"2026-02-05","s":"e20","v":112.3},{"t":"2026-02-08","s":"e20","v":106.3},{"t":"2026-02-12","s":"e20","v":98.4},{"t":"2026-02-16","s":"e20","v":94.4},{"t":"2026-02-20","s":"e20","v":91.1},{"t":"2026-02-24","s":"e20","v":87.8},{"t":"2026-02-28","s":"e20","v":86.8},{"t":"2026-03-04","s":"e20","v":86.7},{"t":"2026-03-07","s":"e20","v":87.0},{"t":"2026-03-09","s":"e20","v":85.9},{"t":"2026-03-14","s":"e20","v":86.5},{"t":"2026-03-17","s":"e20","v":88.5},{"t":"2026-03-21","s":"e20","v":89.1},{"t":"2026-03-25","s":"e20","v":89.1},{"t":"2026-03-29","s":"e20","v":87.2},{"t":"2026-04-06","s":"e20","v":83.8},{"t":"2026-04-10","s":"e20","v":83.8},{"t":"2026-04-15","s":"e20","v":84.5},{"t":"2026-04-23","s":"e20","v":85.5},{"t":"2026-04-28","s":"e20","v":85.2},{"t":"2026-05-04","s":"e20","v":84.5},{"t":"2026-05-08","s":"e20","v":86.5},{"t":"2026-05-12","s":"e20","v":89.1},{"t":"2026-05-15","s":"e20","v":89.5},{"t":"2026-05-20","s":"e20","v":88.5},{"t":"2026-05-28","s":"e20","v":86.5},{"t":"2026-06-01","s":"e20","v":85.2},{"t":"2026-06-04","s":"e20","v":82.6},{"t":"2026-06-06","s":"e20","v":78.3},{"t":"2026-06-09","s":"e20","v":75.4},{"t":"2026-06-12","s":"e20","v":72.9},{"t":"2026-06-15","s":"e20","v":72.0},{"t":"2026-06-21","s":"e20","v":72.0},{"t":"2026-06-25","s":"e20","v":71.1},{"t":"2026-06-29","s":"e20","v":72.0},{"t":"2026-07-03","s":"e20","v":74.4},{"t":"2026-07-07","s":"e20","v":76.4},{"t":"2026-07-16","s":"e20","v":76.9},{"t":"2026-07-25","s":"e20","v":76.2},{"t":"2026-07-31","s":"e20","v":75.3},
{"t":"2025-10-24","s":"bu","v":233.4},{"t":"2025-10-27","s":"bu","v":219.9},{"t":"2025-10-29","s":"bu","v":206.4},{"t":"2025-10-31","s":"bu","v":206.4},{"t":"2025-11-02","s":"bu","v":202.1},{"t":"2025-11-04","s":"bu","v":206.4},{"t":"2025-11-06","s":"bu","v":210.0},{"t":"2025-11-08","s":"bu","v":210.9},{"t":"2025-11-11","s":"bu","v":210.0},{"t":"2025-11-14","s":"bu","v":206.4},{"t":"2025-11-16","s":"bu","v":201.4},{"t":"2025-11-20","s":"bu","v":183.0},{"t":"2025-11-22","s":"bu","v":174.3},{"t":"2025-11-25","s":"bu","v":169.1},{"t":"2025-11-28","s":"bu","v":162.4},{"t":"2025-11-30","s":"bu","v":151.8},{"t":"2025-12-02","s":"bu","v":146.1},{"t":"2025-12-04","s":"bu","v":146.1},{"t":"2025-12-09","s":"bu","v":145.2},{"t":"2025-12-16","s":"bu","v":143.3},{"t":"2025-12-20","s":"bu","v":143.3},{"t":"2025-12-23","s":"bu","v":141.8},{"t":"2025-12-26","s":"bu","v":137.0},{"t":"2025-12-30","s":"bu","v":127.0},{"t":"2026-01-01","s":"bu","v":126.0},{"t":"2026-01-05","s":"bu","v":133.0},{"t":"2026-01-09","s":"bu","v":138.0},{"t":"2026-01-12","s":"bu","v":145.0},{"t":"2026-01-15","s":"bu","v":148.6},{"t":"2026-01-17","s":"bu","v":149.9},{"t":"2026-01-21","s":"bu","v":148.6},{"t":"2026-01-25","s":"bu","v":150.6},{"t":"2026-01-29","s":"bu","v":150.6},{"t":"2026-02-01","s":"bu","v":153.2},{"t":"2026-02-03","s":"bu","v":149.9},{"t":"2026-02-05","s":"bu","v":150.1},{"t":"2026-02-08","s":"bu","v":143.9},{"t":"2026-02-11","s":"bu","v":137.9},{"t":"2026-02-14","s":"bu","v":130.0},{"t":"2026-02-17","s":"bu","v":115.4},{"t":"2026-02-19","s":"bu","v":103.5},{"t":"2026-02-22","s":"bu","v":98.2},{"t":"2026-02-24","s":"bu","v":90.2},{"t":"2026-02-28","s":"bu","v":89.5},{"t":"2026-03-04","s":"bu","v":90.8},{"t":"2026-03-07","s":"bu","v":90.2},{"t":"2026-03-11","s":"bu","v":90.6},{"t":"2026-03-15","s":"bu","v":91.5},{"t":"2026-03-19","s":"bu","v":94.8},{"t":"2026-03-23","s":"bu","v":95.2},{"t":"2026-03-31","s":"bu","v":96.1},{"t":"2026-04-04","s":"bu","v":96.4},{"t":"2026-04-06","s":"bu","v":94.1},{"t":"2026-04-08","s":"bu","v":91.5},{"t":"2026-04-11","s":"bu","v":90.2},{"t":"2026-04-13","s":"bu","v":86.9},{"t":"2026-04-15","s":"bu","v":88.8},{"t":"2026-04-19","s":"bu","v":89.5},{"t":"2026-04-23","s":"bu","v":89.0},{"t":"2026-05-04","s":"bu","v":89.1},{"t":"2026-05-06","s":"bu","v":90.4},{"t":"2026-05-08","s":"bu","v":92.3},{"t":"2026-05-10","s":"bu","v":95.0},{"t":"2026-05-13","s":"bu","v":97.0},{"t":"2026-05-16","s":"bu","v":97.4},{"t":"2026-05-20","s":"bu","v":97.4},{"t":"2026-05-27","s":"bu","v":97.0},{"t":"2026-05-29","s":"bu","v":95.0},{"t":"2026-06-01","s":"bu","v":91.1},{"t":"2026-06-03","s":"bu","v":91.7},{"t":"2026-06-05","s":"bu","v":94.1},{"t":"2026-06-07","s":"bu","v":94.8},{"t":"2026-06-09","s":"bu","v":94.4},{"t":"2026-06-12","s":"bu","v":91.0},{"t":"2026-06-15","s":"bu","v":87.3},{"t":"2026-06-19","s":"bu","v":81.4},{"t":"2026-06-21","s":"bu","v":76.1},{"t":"2026-06-25","s":"bu","v":75.7},{"t":"2026-06-29","s":"bu","v":75.7},{"t":"2026-07-01","s":"bu","v":77.4},{"t":"2026-07-03","s":"bu","v":82.0},{"t":"2026-07-05","s":"bu","v":84.0},{"t":"2026-07-07","s":"bu","v":84.9},{"t":"2026-07-13","s":"bu","v":85.3},{"t":"2026-07-16","s":"bu","v":84.4},{"t":"2026-07-19","s":"bu","v":83.4},{"t":"2026-07-23","s":"bu","v":82.7},{"t":"2026-07-25","s":"bu","v":81.4},{"t":"2026-07-27","s":"bu","v":79.4},{"t":"2026-07-31","s":"bu","v":78.7},
{"t":"2025-10-24","s":"bl","v":164.7},{"t":"2025-10-27","s":"bl","v":169.1},{"t":"2025-10-29","s":"bl","v":176.3},{"t":"2025-11-01","s":"bl","v":177.6},{"t":"2025-11-02","s":"bl","v":178.7},{"t":"2025-11-04","s":"bl","v":166.4},{"t":"2025-11-07","s":"bl","v":155.2},{"t":"2025-11-08","s":"bl","v":151.2},{"t":"2025-11-12","s":"bl","v":143.3},{"t":"2025-11-14","s":"bl","v":132.7},{"t":"2025-11-17","s":"bl","v":125.0},{"t":"2025-11-22","s":"bl","v":121.5},{"t":"2025-11-24","s":"bl","v":119.8},{"t":"2025-11-28","s":"bl","v":120.2},{"t":"2025-11-30","s":"bl","v":126.1},{"t":"2025-12-10","s":"bl","v":125.7},{"t":"2025-12-13","s":"bl","v":127.8},{"t":"2025-12-16","s":"bl","v":126.1},{"t":"2025-12-20","s":"bl","v":120.2},{"t":"2025-12-24","s":"bl","v":118.2},{"t":"2025-12-28","s":"bl","v":116.9},{"t":"2026-01-01","s":"bl","v":118.8},{"t":"2026-01-05","s":"bl","v":118.2},{"t":"2026-01-06","s":"bl","v":115.8},{"t":"2026-01-09","s":"bl","v":116.6},{"t":"2026-01-12","s":"bl","v":117.2},{"t":"2026-01-15","s":"bl","v":119.5},{"t":"2026-01-18","s":"bl","v":125.5},{"t":"2026-01-21","s":"bl","v":124.8},{"t":"2026-01-25","s":"bl","v":119.5},{"t":"2026-01-28","s":"bl","v":115.5},{"t":"2026-01-30","s":"bl","v":110.2},{"t":"2026-02-02","s":"bl","v":100.9},{"t":"2026-02-05","s":"bl","v":91.6},{"t":"2026-02-07","s":"bl","v":78.4},{"t":"2026-02-10","s":"bl","v":70.5},{"t":"2026-02-12","s":"bl","v":65.9},{"t":"2026-02-14","s":"bl","v":65.0},{"t":"2026-02-16","s":"bl","v":67.2},{"t":"2026-02-18","s":"bl","v":69.9},{"t":"2026-02-20","s":"bl","v":73.2},{"t":"2026-02-22","s":"bl","v":75.8},{"t":"2026-02-24","s":"bl","v":76.5},{"t":"2026-03-04","s":"bl","v":78.3},{"t":"2026-03-07","s":"bl","v":79.2},{"t":"2026-03-11","s":"bl","v":79.6},{"t":"2026-03-15","s":"bl","v":80.5},{"t":"2026-03-19","s":"bl","v":80.5},{"t":"2026-03-23","s":"bl","v":80.9},{"t":"2026-03-27","s":"bl","v":81.5},{"t":"2026-03-31","s":"bl","v":80.1},{"t":"2026-04-02","s":"bl","v":77.9},{"t":"2026-04-04","s":"bl","v":76.6},{"t":"2026-04-06","s":"bl","v":76.2},{"t":"2026-04-11","s":"bl","v":76.6},{"t":"2026-04-13","s":"bl","v":78.6},{"t":"2026-04-15","s":"bl","v":79.2},{"t":"2026-04-19","s":"bl","v":77.9},{"t":"2026-04-23","s":"bl","v":79.9},{"t":"2026-04-26","s":"bl","v":81.2},{"t":"2026-05-08","s":"bl","v":81.2},{"t":"2026-05-10","s":"bl","v":80.6},{"t":"2026-05-12","s":"bl","v":78.6},{"t":"2026-05-16","s":"bl","v":78.6},{"t":"2026-05-20","s":"bl","v":79.2},{"t":"2026-05-24","s":"bl","v":79.9},{"t":"2026-05-28","s":"bl","v":78.6},{"t":"2026-06-01","s":"bl","v":77.3},{"t":"2026-06-03","s":"bl","v":74.0},{"t":"2026-06-05","s":"bl","v":70.0},{"t":"2026-06-07","s":"bl","v":64.1},{"t":"2026-06-09","s":"bl","v":58.4},{"t":"2026-06-11","s":"bl","v":56.8},{"t":"2026-06-13","s":"bl","v":57.0},{"t":"2026-06-17","s":"bl","v":58.0},{"t":"2026-06-19","s":"bl","v":59.4},{"t":"2026-06-21","s":"bl","v":61.7},{"t":"2026-06-25","s":"bl","v":62.5},{"t":"2026-06-27","s":"bl","v":63.4},{"t":"2026-06-29","s":"bl","v":64.7},{"t":"2026-07-01","s":"bl","v":66.0},{"t":"2026-07-05","s":"bl","v":64.7},{"t":"2026-07-07","s":"bl","v":64.7},{"t":"2026-07-09","s":"bl","v":66.0},{"t":"2026-07-13","s":"bl","v":68.0},{"t":"2026-07-15","s":"bl","v":70.7},{"t":"2026-07-17","s":"bl","v":72.3},{"t":"2026-07-19","s":"bl","v":73.3},{"t":"2026-07-21","s":"bl","v":73.6},{"t":"2026-07-25","s":"bl","v":73.3},{"t":"2026-07-31","s":"bl","v":72.7},
{"t":"2025-10-24","s":"bm","v":198.8},{"t":"2025-11-02","s":"bm","v":190.2},{"t":"2025-11-04","s":"bm","v":185.6},{"t":"2025-11-10","s":"bm","v":178.9},{"t":"2025-11-12","s":"bm","v":176.3},{"t":"2025-11-16","s":"bm","v":163.1},{"t":"2025-11-20","s":"bm","v":153.8},{"t":"2025-11-23","s":"bm","v":146.0},{"t":"2025-12-01","s":"bm","v":136.7},{"t":"2025-12-06","s":"bm","v":136.0},{"t":"2025-12-16","s":"bm","v":132.7},{"t":"2025-12-22","s":"bm","v":130.8},{"t":"2025-12-30","s":"bm","v":127.3},{"t":"2026-01-01","s":"bm","v":126.1},{"t":"2026-01-05","s":"bm","v":127.4},{"t":"2026-01-12","s":"bm","v":131.4},{"t":"2026-01-17","s":"bm","v":137.0},{"t":"2026-01-19","s":"bm","v":137.6},{"t":"2026-01-23","s":"bm","v":136.0},{"t":"2026-01-29","s":"bm","v":133.4},{"t":"2026-02-02","s":"bm","v":127.5},{"t":"2026-02-05","s":"bm","v":121.5},{"t":"2026-02-08","s":"bm","v":112.9},{"t":"2026-02-12","s":"bm","v":101.7},{"t":"2026-02-16","s":"bm","v":95.7},{"t":"2026-02-20","s":"bm","v":90.5},{"t":"2026-02-24","s":"bm","v":84.5},{"t":"2026-03-04","s":"bm","v":84.5},{"t":"2026-03-11","s":"bm","v":85.2},{"t":"2026-03-17","s":"bm","v":87.8},{"t":"2026-03-25","s":"bm","v":89.1},{"t":"2026-03-29","s":"bm","v":87.8},{"t":"2026-04-06","s":"bm","v":84.5},{"t":"2026-04-11","s":"bm","v":83.8},{"t":"2026-04-15","s":"bm","v":85.2},{"t":"2026-04-23","s":"bm","v":85.5},{"t":"2026-05-04","s":"bm","v":85.2},{"t":"2026-05-10","s":"bm","v":87.2},{"t":"2026-05-16","s":"bm","v":88.1},{"t":"2026-05-24","s":"bm","v":89.1},{"t":"2026-05-30","s":"bm","v":87.2},{"t":"2026-06-01","s":"bm","v":85.2},{"t":"2026-06-05","s":"bm","v":81.9},{"t":"2026-06-09","s":"bm","v":78.6},{"t":"2026-06-12","s":"bm","v":74.4},{"t":"2026-06-19","s":"bm","v":69.4},{"t":"2026-06-23","s":"bm","v":68.7},{"t":"2026-06-27","s":"bm","v":69.4},{"t":"2026-07-01","s":"bm","v":71.3},{"t":"2026-07-05","s":"bm","v":73.3},{"t":"2026-07-09","s":"bm","v":75.3},{"t":"2026-07-13","s":"bm","v":76.6},{"t":"2026-07-17","s":"bm","v":77.7},{"t":"2026-07-21","s":"bm","v":77.9},{"t":"2026-07-25","s":"bm","v":76.6},{"t":"2026-07-31","s":"bm","v":75.6}
]
},
"encoding":{
"x":{"field":"t","type":"temporal","scale":{"type":"utc","domain":[{"year":2025,"month":10,"date":4,"hours":12,"utc":true},{"year":2026,"month":7,"date":31,"hours":12,"utc":true}]},
"axis":{"values":[{"year":2025,"month":11,"date":1,"utc":true},{"year":2025,"month":12,"date":1,"utc":true},{"year":2026,"month":1,"date":1,"utc":true},{"year":2026,"month":2,"date":1,"utc":true},{"year":2026,"month":3,"date":1,"utc":true},{"year":2026,"month":4,"date":1,"utc":true},{"year":2026,"month":5,"date":1,"utc":true},{"year":2026,"month":6,"date":1,"utc":true},{"year":2026,"month":7,"date":1,"utc":true}],"labelExpr":"utcFormat(datum.value, '%b %Y')","orient":"bottom","grid":false,"ticks":false,"domain":false,"labelFont":"Liberation Sans","labelFontSize":16,"labelColor":"#666666","labelPadding":15,"labelFlush":false,"labelOverlap":false,"title":null}}
},
"layer":[
{"data":{"name":"vgrid"},"mark":{"type":"rule","color":"#e3e3e3","strokeWidth":1.5},
"encoding":{"y":{"datum":38.44,"type":"quantitative","scale":{"domain":[40,240],"nice":false,"zero":false},"axis":null},"y2":{"datum":240}}},
{"data":{"name":"candles"},"mark":{"type":"bar","width":5.7,"opacity":1},
"encoding":{"y":{"field":"v","type":"quantitative","scale":{"domain":[0,151.4],"nice":false},"axis":null},
"fill":{"condition":{"test":"datum.c >= datum.o","value":"#c8efd9"},"value":"#f9d0ca"}}},
{"data":{"name":"lines"},"transform":[{"filter":"datum.s === 'bu'"}],"mark":{"type":"line","color":"#c6c6c6","strokeWidth":1.6,"interpolate":"monotone"},
"encoding":{"y":{"field":"v","type":"quantitative","scale":{"domain":[40,240],"nice":false,"zero":false},
"axis":{"orient":"right","values":[40,60,80,100,120,140,160,180,200,220,240],"grid":true,"gridColor":"#e4e4e4","gridDash":[4,3],"gridWidth":1,"domain":true,"domainColor":"#e2e2e2","domainWidth":1.5,"ticks":true,"tickColor":"#d6d6d6","tickSize":10,"labelPadding":5,"labelFont":"Liberation Sans","labelFontSize":15,"labelColor":"#666666","labelFlush":false,"title":null}}}},
{"data":{"name":"lines"},"transform":[{"filter":"datum.s === 'bl'"}],"mark":{"type":"line","color":"#c6c6c6","strokeWidth":1.6,"interpolate":"monotone"},
"encoding":{"y":{"field":"v","type":"quantitative","scale":{"domain":[40,240],"nice":false,"zero":false},"axis":null}}},
{"data":{"name":"lines"},"transform":[{"filter":"datum.s === 'bm'"}],"mark":{"type":"line","color":"#999999","strokeWidth":1.5,"strokeDash":[4,3],"interpolate":"monotone"},
"encoding":{"y":{"field":"v","type":"quantitative","scale":{"domain":[40,240],"nice":false,"zero":false},"axis":null}}},
{"data":{"name":"candles"},"mark":{"type":"rule","color":"#666666","strokeWidth":1.5},
"encoding":{"y":{"field":"l","type":"quantitative","scale":{"domain":[40,240],"nice":false,"zero":false},"axis":null},"y2":{"field":"h"}}},
{"data":{"name":"candles"},"mark":{"type":"bar","width":6,"stroke":"#555555","strokeWidth":1,"opacity":1},
"encoding":{"y":{"field":"o","type":"quantitative","scale":{"domain":[40,240],"nice":false,"zero":false},"axis":null},"y2":{"field":"c"},
"fill":{"condition":{"test":"datum.c >= datum.o","value":"#4a9467"},"value":"#d9533b"}}},
{"data":{"name":"lines"},"transform":[{"filter":"datum.s === 'e200'"}],"mark":{"type":"line","color":"#111111","strokeWidth":2.4,"strokeDash":[9,6],"interpolate":"monotone"},
"encoding":{"y":{"field":"v","type":"quantitative","scale":{"domain":[40,240],"nice":false,"zero":false},"axis":null}}},
{"data":{"name":"lines"},"transform":[{"filter":"datum.s === 'e100'"}],"mark":{"type":"line","color":"#8b4513","strokeWidth":2.2,"interpolate":"monotone"},
"encoding":{"y":{"field":"v","type":"quantitative","scale":{"domain":[40,240],"nice":false,"zero":false},"axis":null}}},
{"data":{"name":"lines"},"transform":[{"filter":"datum.s === 'e50'"}],"mark":{"type":"line","color":"#8b5cf6","strokeWidth":3,"interpolate":"monotone"},
"encoding":{"y":{"field":"v","type":"quantitative","scale":{"domain":[40,240],"nice":false,"zero":false},"axis":null}}},
{"data":{"name":"lines"},"transform":[{"filter":"datum.s === 'e20'"}],"mark":{"type":"line","color":"#1677ff","strokeWidth":3.2,"interpolate":"monotone"},
"encoding":{"y":{"field":"v","type":"quantitative","scale":{"domain":[40,240],"nice":false,"zero":false},"axis":null}}},
{"data":{"values":[{"s":"SOL/USDT"}]},"transform":[{"filter":"false"}],
"mark":{"type":"point","shape":"square","filled":true,"opacity":1},
"encoding":{
"fill":{"field":"s","type":"nominal","scale":{"domain":["SOL/USDT","EMA20","EMA50","EMA100","EMA200","BB Mid (20)","BB Upper","BB Lower","Volume"],"range":["#5e5e5e","#e6e6e6","#e6e6e6","#e6e6e6","#e6e6e6","#e6e6e6","#e6e6e6","#e6e6e6","#c8efd9"]},
"legend":{"title":null,"orient":"none","legendX":780,"legendY":-36,"direction":"horizontal","symbolType":"M-1,-0.7H1V0.7H-1Z","symbolSize":625,"symbolStrokeWidth":2.5,"labelFont":"Liberation Sans","labelFontSize":16,"labelColor":"#555555","labelOffset":7,"columnPadding":5.5,"padding":0}},
"stroke":{"field":"s","type":"nominal","scale":{"domain":["SOL/USDT","EMA20","EMA50","EMA100","EMA200","BB Mid (20)","BB Upper","BB Lower","Volume"],"range":["#5e5e5e","#1677ff","#8b5cf6","#a0522d","#111111","#aaaaaa","#cccccc","#cccccc","#c8efd9"]},
"legend":{"title":null,"orient":"none","legendX":780,"legendY":-36,"direction":"horizontal","symbolType":"M-1,-0.7H1V0.7H-1Z","symbolSize":625,"symbolStrokeWidth":2.5,"labelFont":"Liberation Sans","labelFontSize":16,"labelColor":"#555555","labelOffset":7,"columnPadding":5.5,"padding":0}},
"strokeDash":{"field":"s","type":"nominal","scale":{"domain":["SOL/USDT","EMA20","EMA50","EMA100","EMA200","BB Mid (20)","BB Upper","BB Lower","Volume"],"range":[[1,0],[1,0],[1,0],[1,0],[5,3],[3,2],[1,0],[1,0],[1,0]]},
"legend":{"title":null,"orient":"none","legendX":780,"legendY":-36,"direction":"horizontal","symbolType":"M-1,-0.7H1V0.7H-1Z","symbolSize":625,"symbolStrokeWidth":2.5,"labelFont":"Liberation Sans","labelFontSize":16,"labelColor":"#555555","labelOffset":7,"columnPadding":5.5,"padding":0}}
}}
],
"resolve":{"scale":{"y":"independent"}}
}
